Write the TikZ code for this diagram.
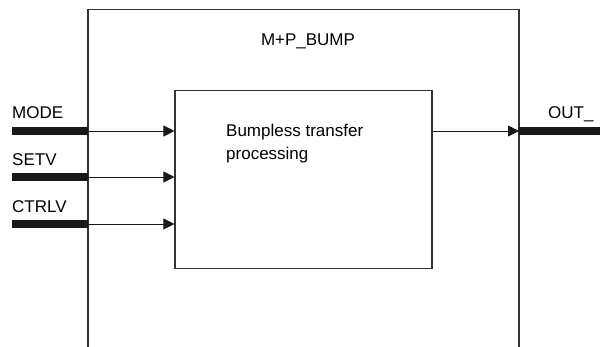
\documentclass[tikz,border=0pt]{standalone}
\usepackage{fontspec}
\setmainfont{Liberation Sans}
\usetikzlibrary{arrows.meta}
\tikzset{
  frame/.style={draw=black!80,line width=1.1pt},
  pin/.style={line width=8pt,black!90},
  sig/.style={black!90,line width=0.8pt,-{Triangle[length=11pt,width=11pt]}},
  lbl/.style={anchor=base west,inner sep=0pt,font=\fontsize{17}{23}\selectfont}
}
\begin{document}
\begin{tikzpicture}[x=1pt,y=-1pt]
\useasboundingbox (0,0) rectangle (600,347);
% function block, open at the bottom
\coordinate (FBbl) at (88,347);
\coordinate (FBtl) at (88,9.5);
\coordinate (FBtr) at (519,9.5);
\coordinate (FBbr) at (519,347);
\draw[frame] (FBbl) -- (FBtl) -- (FBtr) -- (FBbr);
\node[inner sep=0pt,anchor=base,font=\fontsize{17}{23}\selectfont] (FBname) at (308,46) {M+P\_BUMP};
\node[frame,rectangle,minimum width=257pt,minimum height=178pt,inner sep=0pt] (Proc) at (303.5,179.5) {};
\node[lbl,align=left] (ProcTxt) at (226,160) {Bumpless transfer\\processing};

% inputs
\node[lbl] (MODE) at (12,119) {MODE};
\node[lbl] (SETV) at (12,166) {SETV};
\node[lbl] (CTRLV) at (12,213) {CTRLV};
\coordinate (iMODE) at (88,131);
\coordinate (iSETV) at (88,177);
\coordinate (iCTRLV) at (88,224);
\coordinate (eMODE) at (12,131);
\coordinate (eSETV) at (12,177);
\coordinate (eCTRLV) at (12,224);
\draw[pin] (eMODE) -- (iMODE);
\draw[pin] (eSETV) -- (iSETV);
\draw[pin] (eCTRLV) -- (iCTRLV);
\draw[sig] (iMODE) -- (Proc.west |- iMODE);
\draw[sig] (iSETV) -- (Proc.west |- iSETV);
\draw[sig] (iCTRLV) -- (Proc.west |- iCTRLV);

% output
\coordinate (oOUT) at (519,131);
\coordinate (eOUT) at (600,131);
\node[lbl] (OUT) at (548,119) {OUT\_};
\draw[sig] (Proc.east |- oOUT) -- (oOUT);
\draw[pin] (oOUT) -- (eOUT);
\end{tikzpicture}
\end{document}
